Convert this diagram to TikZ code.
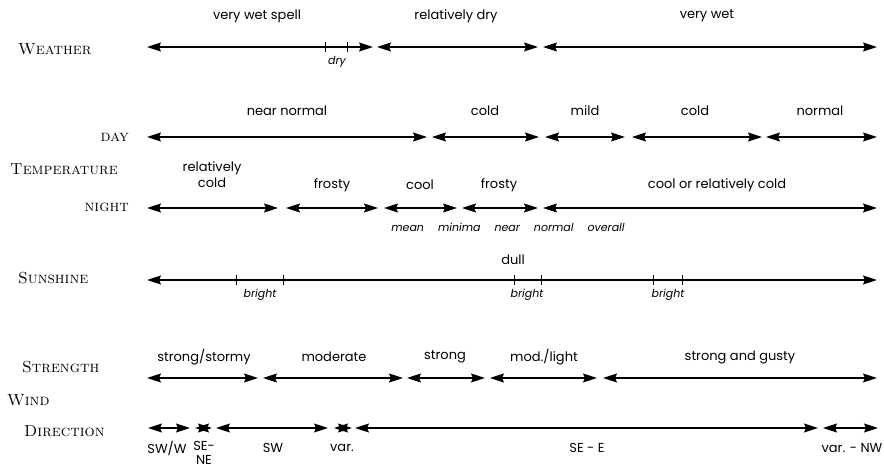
\documentclass[tikz,border=0pt]{standalone}
\usepackage{fontspec}
\setsansfont{Poppins}
\usetikzlibrary{arrows.meta}

\tikzset{
  span/.style={{Stealth[length=14pt,width=9pt,inset=2pt]}-{Stealth[length=14pt,width=9pt,inset=2pt]},line width=1.1pt},
  tick/.style={line width=1pt},
  head/.style={inner sep=0pt,font=\fontsize{16}{18}\selectfont},
  lab/.style={inner sep=0pt,font=\sffamily\fontsize{13}{14}\selectfont},
  note/.style={inner sep=0pt,font=\sffamily\itshape\fontsize{11}{12}\selectfont}
}

\begin{document}
\begin{tikzpicture}[x=1pt,y=-1pt]
  \useasboundingbox (0,0) rectangle (884,470);

  %% row headings
  \node[head,anchor=west] (hweather) at (18,49) {\textsc{Weather}};
  \node[head,anchor=east] (hday) at (129,137) {\textsc{day}};
  \node[head,anchor=west] (htemp) at (10,169) {\textsc{Temperature}};
  \node[head,anchor=east] (hnight) at (129,207) {\textsc{night}};
  \node[head,anchor=west] (hsun) at (18,278) {\textsc{Sunshine}};
  \node[head,anchor=west] (hstrength) at (22,367) {\textsc{Strength}};
  \node[head,anchor=west] (hwind) at (7,400) {\textsc{Wind}};
  \node[head,anchor=west] (hdir) at (24,431) {\textsc{Direction}};

  %% weather
  \coordinate (w1) at (147,47); \coordinate (w2) at (373,47);
  \coordinate (w3) at (377,47); \coordinate (w4) at (538,47);
  \coordinate (w5) at (543,47); \coordinate (w6) at (877,47);
  \draw[span] (w1) -- (w2);
  \draw[span] (w3) -- (w4);
  \draw[span] (w5) -- (w6);
  \draw[tick] (325,42) -- (325,52);
  \draw[tick] (347,42) -- (347,52);
  \node[lab] (lwet) at (257,16) {very wet spell};
  \node[lab] (lreldry) at (456,16) {relatively dry};
  \node[lab] (lverywet) at (707,16) {very wet};
  \node[note] (ldry) at (337,62) {dry};

  %% day
  \coordinate (d1) at (147,137); \coordinate (d2) at (427,137);
  \coordinate (d3) at (432,137); \coordinate (d4) at (539,137);
  \coordinate (d5) at (545,137); \coordinate (d6) at (625,137);
  \coordinate (d7) at (632,137); \coordinate (d8) at (762,137);
  \coordinate (d9) at (766,137); \coordinate (d10) at (877,137);
  \draw[span] (d1) -- (d2);
  \draw[span] (d3) -- (d4);
  \draw[span] (d5) -- (d6);
  \draw[span] (d7) -- (d8);
  \draw[span] (d9) -- (d10);
  \node[lab] (lnearnormal) at (287,111) {near normal};
  \node[lab] (ldcold) at (485,111) {cold};
  \node[lab] (lmild) at (585,111) {mild};
  \node[lab] (ldcold2) at (695,111) {cold};
  \node[lab] (lnormal) at (820,111) {normal};

  %% night
  \coordinate (n1) at (147,208); \coordinate (n2) at (278,208);
  \coordinate (n3) at (286,208); \coordinate (n4) at (378,208);
  \coordinate (n5) at (384,208); \coordinate (n6) at (457,208);
  \coordinate (n7) at (462,208); \coordinate (n8) at (538,208);
  \coordinate (n9) at (543,208); \coordinate (n10) at (877,208);
  \draw[span] (n1) -- (n2);
  \draw[span] (n3) -- (n4);
  \draw[span] (n5) -- (n6);
  \draw[span] (n7) -- (n8);
  \draw[span] (n9) -- (n10);
  \node[lab,align=center] (lrelcold) at (212,175) {relatively\\[2pt]cold};
  \node[lab] (lfrosty) at (332,185) {frosty};
  \node[lab] (lcool) at (420,185) {cool};
  \node[lab] (lfrosty2) at (499,185) {frosty};
  \node[lab] (lcoolrel) at (717,185) {cool or relatively cold};
  \node[note] (lmean) at (508,227) {mean\hspace{14pt}minima\hspace{14pt}near\hspace{14pt}normal\hspace{14pt}overall};

  %% sunshine
  \coordinate (s1) at (147,280); \coordinate (s2) at (877,280);
  \draw[span] (s1) -- (s2);
  \foreach \t in {236,283,514,541,653,682}
    \draw[tick] (\t,275) -- (\t,285);
  \node[lab] (ldull) at (513,260) {dull};
  \node[note] (lbright1) at (260,295) {bright};
  \node[note] (lbright2) at (527,295) {bright};
  \node[note] (lbright3) at (668,295) {bright};

  %% wind strength
  \coordinate (t1) at (147,378); \coordinate (t2) at (258,378);
  \coordinate (t3) at (263,378); \coordinate (t4) at (403,378);
  \coordinate (t5) at (407,378); \coordinate (t6) at (485,378);
  \coordinate (t7) at (490,378); \coordinate (t8) at (597,378);
  \coordinate (t9) at (603,378); \coordinate (t10) at (877,378);
  \draw[span] (t1) -- (t2);
  \draw[span] (t3) -- (t4);
  \draw[span] (t5) -- (t6);
  \draw[span] (t7) -- (t8);
  \draw[span] (t9) -- (t10);
  \node[lab] (lstormy) at (204,357) {strong/stormy};
  \node[lab] (lmoderate) at (334,357) {moderate};
  \node[lab] (lstrong) at (445,357) {strong};
  \node[lab] (lmodlight) at (544,357) {mod./light};
  \node[lab] (lgusty) at (740,357) {strong and gusty};

  %% wind direction
  \coordinate (r1) at (148,428); \coordinate (r2) at (190,428);
  \coordinate (r3) at (195,428); \coordinate (r4) at (212,428);
  \coordinate (r5) at (216,428); \coordinate (r6) at (328,428);
  \coordinate (r7) at (334,428); \coordinate (r8) at (352,428);
  \coordinate (r9) at (355,428); \coordinate (r10) at (818,428);
  \coordinate (r11) at (823,428); \coordinate (r12) at (878,428);
  \draw[span] (r1) -- (r2);
  \draw[span] (r3) -- (r4);
  \draw[span] (r5) -- (r6);
  \draw[span] (r7) -- (r8);
  \draw[span] (r9) -- (r10);
  \draw[span] (r11) -- (r12);
  \node[lab] (lswwest) at (167,448) {SW/W};
  \node[lab,align=center] (lsene) at (204,453) {SE-\\[0pt]NE};
  \node[lab] (lsw) at (273,448) {SW};
  \node[lab] (lvar) at (342,448) {var.};
  \node[lab] (lsee) at (587,448) {SE - E};
  \node[lab] (lvarnw) at (852,448) {var. - NW};
\end{tikzpicture}
\end{document}
